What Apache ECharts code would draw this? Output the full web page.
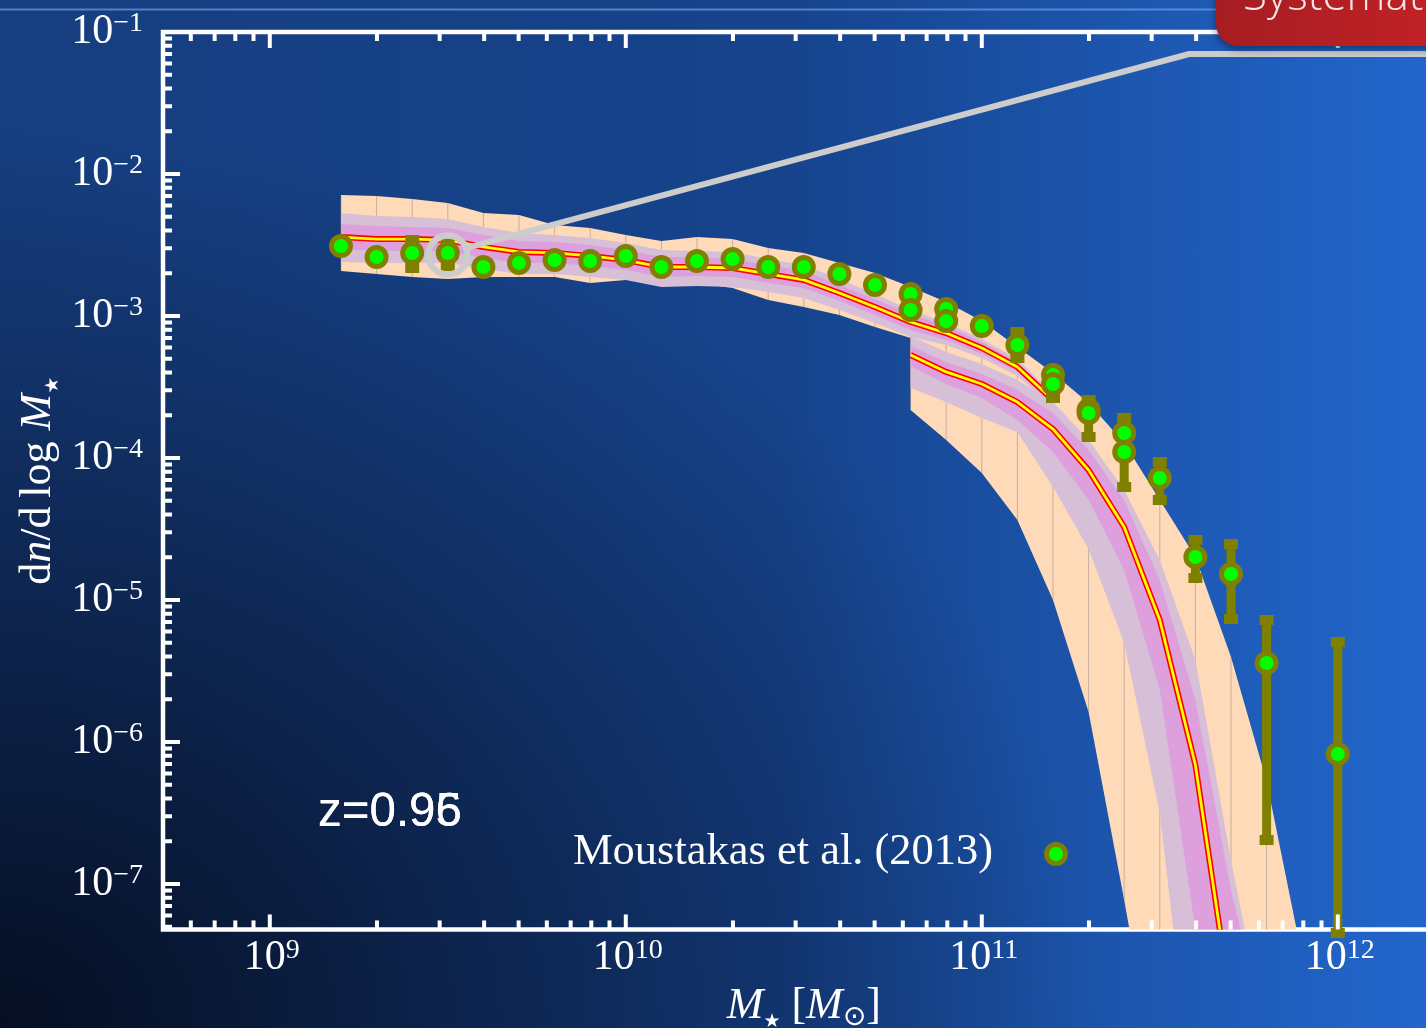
<!DOCTYPE html>
<html>
<head>
<meta charset="utf-8">
<title>Stellar mass function</title>
<script src="https://cdn.jsdelivr.net/npm/echarts@6/dist/echarts.min.js"></script>
<style>
  html, body { margin: 0; padding: 0; width: 1426px; height: 1028px; overflow: hidden; }
  body {
    background:
      radial-gradient(ellipse 1100px 900px at 0% 100%, rgba(4,10,26,0.92) 0%, rgba(4,10,26,0.55) 40%, rgba(4,10,26,0) 100%),
      linear-gradient(90deg, #163e80 0%, #16438c 55%, #2266cc 100%);
  }
  #chart { width: 1426px; height: 1028px; }
</style>
</head>
<body>
<div id="chart"></div>
<script>
const SERIF = "'Liberation Serif','DejaVu Serif','Times New Roman',serif";
const SANS = "'Liberation Sans',Arial,'DejaVu Sans',sans-serif";
const SYM = "'DejaVu Sans','DejaVu Serif',sans-serif";
const P = v => Math.pow(10, v);

// Axis ranges (log10)
const xLogMin = 8.7, xLogMax = 12.3;
const yLogMin = -7.32, yLogMax = -1;

// Tick label exponents
const xMajorExp = [9, 10, 11, 12];
const yMajorExp = [-1, -2, -3, -4, -5, -6, -7];

// Moustakas et al. (2013): log10 M* and log10 dn/dlogM*
const obsLogM = [9.2, 9.3, 9.4, 9.5, 9.6, 9.7, 9.8, 9.9, 10.0, 10.1, 10.2, 10.3, 10.4, 10.5, 10.6, 10.7,
                 10.8, 10.8, 10.9, 10.9, 11.0, 11.1, 11.2, 11.2, 11.3, 11.3, 11.4, 11.4, 11.5, 11.6, 11.7, 11.8, 12.0];
const obsLogPhi = [-2.507, -2.585, -2.556, -2.556, -2.655, -2.627, -2.606, -2.613, -2.577, -2.655, -2.613, -2.599,
                   -2.655, -2.655, -2.704, -2.782, -2.845, -2.958, -2.951, -3.035, -3.070, -3.204, -3.415, -3.479,
                   -3.662, -3.683, -3.824, -3.958, -4.141, -4.697, -4.817, -5.444, -6.085];

// Error bars (log10)
const errLogM  = [9.4, 9.5, 11.1, 11.2, 11.3, 11.4, 11.5, 11.6, 11.7, 11.8, 12.0];
const errLogLo = [-2.662, -2.648, -3.296, -3.577, -3.852, -4.204, -4.296, -4.845, -5.134, -6.690, -7.345];
const errLogHi = [-2.465, -2.479, -3.113, -3.415, -3.592, -3.718, -4.028, -4.577, -4.606, -5.141, -5.296];

// Model A (low-mass branch)
const modelALogM = [9.2, 9.3, 9.4, 9.5, 9.6, 9.7, 9.8, 9.9, 10.0, 10.1, 10.2, 10.3, 10.4, 10.5, 10.6, 10.7, 10.8, 10.9, 11.0, 11.1, 11.2];
const modelAMed = [-2.444, -2.458, -2.458, -2.465, -2.514, -2.549, -2.556, -2.577, -2.606, -2.655, -2.655, -2.662, -2.704,
                   -2.746, -2.838, -2.937, -3.042, -3.120, -3.225, -3.359, -3.592];
const modelAPlumHi = [-2.352, -2.366, -2.373, -2.380, -2.430, -2.472, -2.479, -2.500, -2.535, -2.585, -2.585, -2.599, -2.641,
                      -2.683, -2.782, -2.880, -2.986, -3.070, -3.183, -3.324, -3.563];
const modelAPlumLo = [-2.528, -2.542, -2.542, -2.542, -2.592, -2.627, -2.627, -2.648, -2.676, -2.725, -2.718, -2.725, -2.768,
                      -2.803, -2.894, -2.993, -3.099, -3.169, -3.268, -3.394, -3.620];
const modelALavHi = [-2.275, -2.296, -2.303, -2.317, -2.373, -2.415, -2.430, -2.451, -2.486, -2.535, -2.542, -2.549, -2.599,
                     -2.641, -2.739, -2.845, -2.958, -3.049, -3.162, -3.303, -3.549];
const modelALavLo = [-2.620, -2.627, -2.627, -2.627, -2.669, -2.704, -2.704, -2.725, -2.746, -2.796, -2.789, -2.796, -2.831,
                     -2.873, -2.958, -3.049, -3.148, -3.204, -3.296, -3.423, -3.641];
const modelAPeachHi = [-2.148, -2.155, -2.176, -2.204, -2.275, -2.289, -2.359, -2.380, -2.430, -2.472, -2.444, -2.458, -2.521,
                       -2.556, -2.627, -2.697, -2.796];
const modelAPeachLo = [-2.683, -2.704, -2.725, -2.739, -2.725, -2.725, -2.725, -2.768, -2.746, -2.746, -2.768, -2.803, -2.887,
                       -2.937, -2.993, -3.077, -3.155];

// Model B (high-mass branch)
const modelBLogM = [10.8, 10.9, 11.0, 11.1, 11.2, 11.3, 11.4, 11.5, 11.6, 11.7, 11.8, 11.9];
const modelBMed = [-3.275, -3.394, -3.479, -3.606, -3.796, -4.085, -4.486, -5.141, -6.162, -7.852];
const modelBPlumHi = [-3.211, -3.324, -3.408, -3.521, -3.683, -3.944, -4.296, -4.859, -5.704, -7.042, -8.085];
const modelBPlumLo = [-3.352, -3.479, -3.577, -3.732, -3.958, -4.296, -4.789, -5.634, -7.324, -8.873];
const modelBLavHi = [-3.141, -3.254, -3.338, -3.451, -3.606, -3.873, -4.225, -4.718, -5.423, -6.831, -8.099];
const modelBLavLo = [-3.507, -3.606, -3.718, -3.817, -4.204, -4.641, -5.303, -6.500, -8.662];
const modelBPeachHi = [-2.796, -2.901, -3.035, -3.218, -3.401, -3.613, -3.894, -4.296, -4.697, -5.401, -6.275, -7.514];
const modelBPeachLo = [-3.662, -3.873, -4.106, -4.437, -5.000, -5.789, -7.113, -8.521];

const PEACH = '#ffdab9', LAVENDER = '#d8bfd8', PLUM = '#dda0dd';
const OLIVE = '#808000', GREEN = '#00ff00';

function sup(exp) {
  return '{b|10}{s|' + String(exp).replace('-', '\u2212') + '}';
}

function bandSeries(logM, hi, lo, fill, z) {
  return {
    type: 'custom', coordinateSystem: 'cartesian2d', clip: true, silent: true, z: z,
    data: [[P(logM[0]), P(hi[0])]],
    renderItem: function (params, api) {
      const pts = [];
      hi.forEach((v, i) => pts.push(api.coord([P(logM[i]), P(v)])));
      for (let i = lo.length - 1; i >= 0; i--) pts.push(api.coord([P(logM[i]), P(lo[i])]));
      return { type: 'polygon', shape: { points: pts }, style: { fill: fill, stroke: 'none' } };
    }
  };
}

// thin seams at each model node inside the outer band
function seamSeries(logM, hi, lo, z) {
  return {
    type: 'custom', coordinateSystem: 'cartesian2d', clip: true, silent: true, z: z,
    data: [[P(logM[0]), P(hi[0])]],
    renderItem: function (params, api) {
      const kids = [];
      hi.forEach((v, i) => {
        const a = api.coord([P(logM[i]), P(v)]);
        const b = api.coord([P(logM[i]), P(i < lo.length ? lo[i] : yLogMin - 1)]);
        kids.push({ type: 'line', shape: { x1: a[0], y1: a[1], x2: b[0], y2: b[1] },
                    style: { stroke: 'rgba(150,140,140,0.55)', lineWidth: 1 } });
      });
      return { type: 'group', children: kids };
    }
  };
}

function medianSeries(logM, med, z) {
  return {
    type: 'custom', coordinateSystem: 'cartesian2d', clip: true, silent: true, z: z,
    data: [[P(logM[0]), P(med[0])]],
    renderItem: function (params, api) {
      const pts = med.map((v, i) => api.coord([P(logM[i]), P(v)]));
      return { type: 'group', children: [
        { type: 'polyline', shape: { points: pts }, style: { stroke: '#ff0000', lineWidth: 6, fill: 'none', lineJoin: 'round' } },
        { type: 'polyline', shape: { points: pts }, style: { stroke: '#ffff00', lineWidth: 2.8, fill: 'none', lineJoin: 'round' } }
      ] };
    }
  };
}

const errData = errLogM.map((m, i) => [P(m), P(errLogLo[i]), P(errLogHi[i])]);
const obsData = obsLogM.map((m, i) => [P(m), P(obsLogPhi[i])]);

// minor tick values at 2..9 x 10^k
function minorTicks(lo, hi) {
  const out = [];
  for (let k = Math.floor(lo) - 1; k <= Math.ceil(hi); k++) {
    for (let m = 2; m <= 9; m++) {
      const lv = Math.log10(m) + k;
      if (lv > lo && lv < hi) out.push(P(lv));
    }
  }
  return out;
}
const xMinor = minorTicks(xLogMin, xLogMax);
const yMinor = minorTicks(yLogMin, yLogMax);

const tickRich = {
  b: { fontSize: 42, lineHeight: 44, fontFamily: SERIF },
  s: { fontSize: 28, lineHeight: 24, fontFamily: SERIF, verticalAlign: 'top' }
};

const nameRich = {
  i: { fontStyle: 'italic', fontSize: 44, lineHeight: 50, fontFamily: SERIF },
  r: { fontSize: 44, lineHeight: 50, fontFamily: SERIF },
  st: { fontSize: 19, lineHeight: 24, verticalAlign: 'bottom', fontFamily: SYM },
  s: { fontSize: 28, lineHeight: 26, verticalAlign: 'bottom', fontFamily: SYM }
};

const chart = echarts.init(document.getElementById('chart'), null, { renderer: 'canvas' });

chart.setOption({
  animation: false,
  backgroundColor: 'transparent',
  textStyle: { fontFamily: SERIF },
  grid: {
    left: 163, top: 32, width: 1281.6, height: 897.44,
    outerBoundsMode: 'none', containLabel: false,
    show: true, borderColor: '#ffffff', borderWidth: 4.5, backgroundColor: 'rgba(0,0,0,0)'
  },
  xAxis: {
    type: 'log', logBase: 10, min: P(xLogMin), max: P(xLogMax),
    axisLine: { show: false }, axisTick: { show: false }, axisLabel: { show: false },
    splitLine: { show: false }, minorTick: { show: false },
    name: '{i|M}{st|\u2605} {r|[}{i|M}{s|\u2299}{r|]}',
    nameLocation: 'middle', nameGap: 52,
    nameTextStyle: { color: '#ffffff', fontFamily: SERIF, fontSize: 44, rich: nameRich }
  },
  yAxis: {
    type: 'log', logBase: 10, min: P(yLogMin), max: P(yLogMax),
    axisLine: { show: false }, axisTick: { show: false }, axisLabel: { show: false },
    splitLine: { show: false }, minorTick: { show: false },
    name: '{r|d}{i|n}{r|/d\u2009log }{i|M}{st|\u2605}',
    nameLocation: 'middle', nameGap: 100,
    nameTextStyle: { color: '#ffffff', fontFamily: SERIF, fontSize: 44, rich: nameRich }
  },
  series: [
    bandSeries(modelALogM, modelAPeachHi, modelAPeachLo, PEACH, 2),
    bandSeries(modelBLogM, modelBPeachHi, modelBPeachLo, PEACH, 2),
    seamSeries(modelALogM.slice(0, modelAPeachHi.length), modelAPeachHi, modelAPeachLo, 2),
    seamSeries(modelBLogM, modelBPeachHi, modelBPeachLo, 2),
    bandSeries(modelBLogM, modelBLavHi, modelBLavLo, LAVENDER, 2),
    bandSeries(modelALogM, modelALavHi, modelALavLo, LAVENDER, 2),
    bandSeries(modelBLogM, modelBPlumHi, modelBPlumLo, PLUM, 2),
    bandSeries(modelALogM, modelAPlumHi, modelAPlumLo, PLUM, 2),
    medianSeries(modelBLogM, modelBMed, 3),
    medianSeries(modelALogM, modelAMed, 3),
    {
      // error bars with square caps
      type: 'custom', coordinateSystem: 'cartesian2d', clip: false, silent: true, z: 4,
      data: errData,
      renderItem: function (params, api) {
        const lo = api.coord([api.value(0), api.value(1)]);
        const hi = api.coord([api.value(0), api.value(2)]);
        const x = lo[0];
        return { type: 'group', children: [
          { type: 'rect', shape: { x: x - 4.5, y: hi[1], width: 9, height: lo[1] - hi[1] }, style: { fill: OLIVE } },
          { type: 'rect', shape: { x: x - 7, y: hi[1] - 5, width: 14, height: 10 }, style: { fill: OLIVE } },
          { type: 'rect', shape: { x: x - 7, y: lo[1] - 5, width: 14, height: 10 }, style: { fill: OLIVE } }
        ] };
      }
    },
    {
      type: 'scatter', name: 'Moustakas et al. (2013)', data: obsData,
      symbol: 'circle', symbolSize: 19, silent: true, z: 5,
      itemStyle: { color: GREEN, borderColor: OLIVE, borderWidth: 5, opacity: 1 }
    },
    {
      // highlighted point with a callout leading to the slide heading
      type: 'custom', coordinateSystem: 'cartesian2d', clip: false, silent: true, z: 6,
      data: [[P(obsLogM[3]), P(obsLogPhi[3])]],
      renderItem: function (params, api) {
        const c = api.coord([api.value(0), api.value(1)]);
        const r = 19.5;
        const tx = 1189, ty = 54;
        const dx = tx - c[0], dy = ty - c[1], d = Math.hypot(dx, dy);
        const sx = c[0] + dx / d * (r + 2), sy = c[1] + dy / d * (r + 2);
        return { type: 'group', children: [
          { type: 'circle', shape: { cx: c[0], cy: c[1] + 2, r: r }, style: { fill: 'none', stroke: '#cccccc', lineWidth: 6.5 } },
          { type: 'polyline', shape: { points: [[sx, sy], [tx, ty], [1440, ty]] },
            style: { fill: 'none', stroke: '#cccccc', lineWidth: 6 } }
        ] };
      }
    },
    {
      // inward ticks and tick labels
      type: 'custom', coordinateSystem: 'cartesian2d', clip: false, silent: true, z: 7,
      data: [[P(9), P(-1)]],
      renderItem: function (params, api) {
        const cs = params.coordSys;
        const top = cs.y, bottom = cs.y + cs.height, left = cs.x;
        const kids = [];
        const tick = (x1, y1, x2, y2) => kids.push({ type: 'line', shape: { x1, y1, x2, y2 },
                                                     style: { stroke: '#ffffff', lineWidth: 4 } });
        xMinor.forEach(v => {
          const x = api.coord([v, P(yLogMax)])[0];
          tick(x, top, x, top + 9); tick(x, bottom, x, bottom - 9);
        });
        xMajorExp.forEach(e => {
          const x = api.coord([P(e), P(yLogMax)])[0];
          tick(x, top, x, top + 16); tick(x, bottom, x, bottom - 15);
          kids.push({ type: 'text', style: { text: sup(e), x: x + 2, y: bottom + 7, align: 'center', verticalAlign: 'top',
                                             fill: '#ffffff', rich: tickRich } });
        });
        yMinor.forEach(v => {
          const y = api.coord([P(xLogMin), v])[1];
          tick(left, y, left + 9, y);
        });
        yMajorExp.forEach(e => {
          const y = api.coord([P(xLogMin), P(e)])[1];
          tick(left, y, left + 17, y);
          kids.push({ type: 'text', style: { text: sup(e), x: left - 20, y: y, align: 'right', verticalAlign: 'middle',
                                             fill: '#ffffff', rich: tickRich } });
        });
        return { type: 'group', children: kids };
      }
    }
  ],
  graphic: {
    elements: [
      { type: 'line', z: 50, silent: true, shape: { x1: 0, y1: 9.5, x2: 1426, y2: 9.5 },
        style: { stroke: 'rgba(120,165,230,0.65)', lineWidth: 2 } },
      { type: 'text', z: 10, silent: true, x: 318, y: 813,
        style: { text: 'z=0.95', fill: '#ffffff', font: '47.5px ' + SANS, align: 'left', verticalAlign: 'middle' } },
      { type: 'text', z: 10, silent: true, x: 318, y: 813,
        style: { text: 'z=0.96', fill: '#ffffff', font: '47.5px ' + SANS, align: 'left', verticalAlign: 'middle' } },
      { type: 'text', z: 10, silent: true, x: 573, y: 852,
        style: { text: 'Moustakas et al. (2013)', fill: '#ffffff', font: '44.5px ' + SERIF, align: 'left', verticalAlign: 'middle' } },
      { type: 'circle', z: 10, silent: true, shape: { cx: 1056, cy: 854, r: 9.5 },
        style: { fill: GREEN, stroke: OLIVE, lineWidth: 5 } },
      {
        type: 'group', z: 100, silent: true,
        children: [
          { type: 'rect', z: 100, shape: { x: 1216, y: -40, width: 260, height: 86, r: [0, 0, 0, 22] },
            style: {
              fill: { type: 'linear', x: 0, y: 0, x2: 1, y2: 0,
                      colorStops: [{ offset: 0, color: '#a51d22' }, { offset: 1, color: '#c62227' }] },
              shadowBlur: 8, shadowColor: 'rgba(0,0,0,0.45)', shadowOffsetY: 3
            } },
          { type: 'text', z: 101, x: 1243, y: -3,
            style: { text: 'Systematics', fill: '#f6e6e6', font: '300 44px "Open Sans", ' + SANS,
                     align: 'left', verticalAlign: 'middle' } }
        ]
      }
    ]
  }
});
</script>
</body>
</html>
